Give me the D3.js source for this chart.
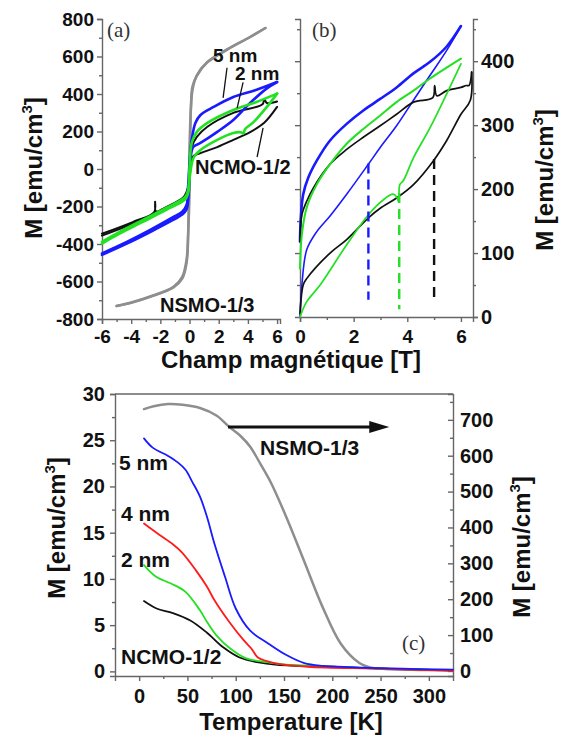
<!DOCTYPE html>
<html>
<head>
<meta charset="utf-8">
<script src="https://cdn.jsdelivr.net/npm/d3@7"></script>
<style>
body { margin: 0; background: #fff; }
text { font-family: "Liberation Sans", Arial, sans-serif; font-weight: bold; fill: #111; }
.axis path, .axis line { stroke: #666; stroke-width: 1.4; }
.panel-tag { font-family: "Liberation Serif", "Times New Roman", serif; font-weight: normal; fill: #333; }
</style>
</head>
<body>
<svg width="563" height="739"></svg>
<script>
// ---- panel (a): hysteresis loops, [H (T), M (emu/cm3)] ----
const aGrayDown = [[5.2,752],[4.15,704],[2.6,640],[1.2,570],[0.5,500],[0.2,420],[0.08,300],[0,120],[-0.04,-100],[-0.1,-350],[-0.2,-480],[-0.5,-575],[-1.1,-628],[-2.7,-680],[-4,-712],[-5,-731]];
const aGrayUp = [[-5,-731],[-4,-714],[-2.7,-682],[-1.1,-632],[-0.5,-585],[-0.2,-500],[-0.08,-320],[0,-130],[0.04,100],[0.1,340],[0.2,440],[0.5,497],[1.2,567],[2.6,637],[4.15,704],[5.2,752]];
const aBlueDown = [[6,464],[4.5,420],[3,384],[1.65,331],[0.75,288],[0.4,245],[0.15,155],[0.03,64],[-0.1,-96],[-0.2,-190],[-0.5,-228],[-1.1,-256],[-2.7,-325],[-4.3,-389],[-6,-450]];
const aBlueUp = [[-6,-458],[-4.3,-398],[-2.7,-336],[-1.1,-270],[-0.5,-243],[-0.2,-215],[-0.05,-120],[0.05,40],[0.25,117],[0.75,139],[1.9,198],[3,261],[4.15,352],[5.3,430],[6,464]];
const aGreenDown = [[6,402],[4.5,355],[3,315],[1.2,245],[0.5,198],[0.15,139],[0,11],[-0.1,-112],[-0.3,-149],[-1.6,-208],[-3.2,-272],[-4.8,-336],[-6,-389]];
const aGreenUp = [[-6,-398],[-4.8,-345],[-3.2,-282],[-1.6,-218],[-0.3,-162],[-0.1,-130],[0.05,-20],[0.3,64],[0.75,101],[1.9,155],[3,192],[3.5,196],[3.7,190],[3.8,212],[4.4,251],[5.3,331],[6,402]];
const aBlackDown = [[6,360],[5.3,352],[5.12,372],[5.0,345],[3,299],[1.2,224],[0.5,171],[0.15,117],[0.03,48],[-0.1,-96],[-0.4,-149],[-1.6,-203],[-2.3,-226],[-2.36,-175],[-2.42,-230],[-3.9,-283],[-6,-345]];
const aBlackUp = [[-6,-355],[-3.9,-292],[-2.3,-237],[-1.6,-214],[-0.4,-162],[-0.1,-120],[0.05,-10],[0.2,64],[0.75,85],[1.9,117],[3,155],[4.15,197],[5.1,245],[6,331]];

// ---- panel (b): zoom on positive field ----
const bBlueDown = [[6,455],[5.47,423],[4.85,399],[4.23,381],[3.6,359],[2.99,341],[2.36,323],[1.74,302],[1.12,276],[0.62,244],[0.31,218],[0.12,192],[0.03,155],[0,118]];
const bBlueUp = [[0,0],[0.08,55],[0.25,105],[0.6,132],[1.12,158],[1.74,192],[2.55,239],[2.99,265],[3.6,299],[4.23,339],[4.85,378],[5.47,417],[6,455]];
const bGreenDown = [[6,404],[4.85,373],[4.23,354],[3.6,336],[2.99,315],[2.36,294],[1.74,271],[1.12,239],[0.62,207],[0.25,171],[0.07,129],[0,76]];
const bGreenUp = [[0,0],[0.25,24],[0.75,50],[1.74,113],[2.55,160],[3.1,183],[3.47,192],[3.6,188],[3.68,180],[3.72,207],[3.85,213],[4.23,249],[4.85,296],[5.47,349],[6,396]];
const bBlackDown = [[6.4,383],[6.3,362],[6.2,362],[6,359],[5.47,354],[5.1,346],[5.02,362],[4.95,343],[4.23,336],[3.6,317],[2.99,299],[2.36,281],[1.74,262],[1.12,239],[0.5,202],[0.25,181],[0.07,160],[0,118]];
const bBlackUp = [[0,5],[0.12,50],[0.25,60],[1.12,100],[1.74,121],[2.55,155],[2.99,170],[3.6,186],[4.23,207],[4.97,244],[5.47,276],[6,317],[6.35,339],[6.4,383]];
const bDashField = [2.55, 3.7, 5.0];
const bDashTop = [240, 194, 247];
const bDashBottom = [27, 12, 28];
const bDashColor = ["#1a1aff", "#22e022", "#111"];

// ---- panel (c): M(T) ----
const tGray = [5,15,30,45,63,80,93,105,115,126,137,153,171,190,209,228,239,260,290,325];
const mGray = [730,738,744,742,733,712,681,655,625,575,522,425,305,178,75,22,10,5,3,2];
const tBlue = [5,14,30,40,48,55,63,70,78,89,100,115,134,152,171,190,220,250,290,325];
const mBlue = [25.2,24.2,23.3,22.6,21.8,20.5,18.9,16.8,13.8,10.2,6.8,4.4,3.0,1.8,0.9,0.6,0.45,0.35,0.25,0.2];
const tRed = [5,18,33,44,59,70,78,93,108,116,118,123,140,175,250,325];
const mRed = [16.0,15.0,13.9,12.9,10.9,9.2,7.7,5.4,3.4,2.5,2.2,1.5,0.9,0.5,0.3,0.05];
const tGreen = [5,18,33,48,63,70,80,94,111,132,150,200,250,325];
const mGreen = [11.5,10.2,9.5,8.6,6.6,5.4,3.9,2.5,1.4,1.0,0.75,0.5,0.3,0.1];
const tBlack = [5,18,35,53,70,87,104,122,143,200,250,325];
const mBlack = [7.6,6.8,6.3,5.5,4.2,2.6,1.5,1.0,0.7,0.5,0.3,0.1];

const svg = d3.select("svg");
svg.append("rect").attr("width", 563).attr("height", 739).attr("fill", "#fff");

// scales
const xA = d3.scaleLinear().domain([-6, 6.2]).range([102, 280]);
const yA = d3.scaleLinear().domain([-800, 800]).range([319, 19]);
const xB = d3.scaleLinear().domain([0, 6.45]).range([300, 473]);
const yB = d3.scaleLinear().domain([0, 466]).range([317, 19]);
const xC = d3.scaleLinear().domain([-25, 325]).range([115, 453]);
const yC = d3.scaleLinear().domain([-0.5, 30]).range([676, 394]);
const yCR = d3.scaleLinear().domain([-14, 772]).range([676, 394]);

function addAxis(axisFn, scale, transform, majors, minors, o) {
  const major = axisFn(scale).tickValues(majors).tickSizeOuter(0)
    .tickSize(o.size).tickPadding(o.pad)
    .tickFormat(o.noLabels ? "" : d => String(d));
  const g = svg.append("g").attr("class", "axis").attr("transform", transform).call(major);
  g.selectAll("text").style("font-size", o.font + "px");
  const m = svg.append("g").attr("class", "axis").attr("transform", transform)
    .call(axisFn(scale).tickValues(minors).tickSize(o.minor).tickFormat(""));
  m.select(".domain").remove();
  return g;
}

// panel (a) axes
addAxis(d3.axisLeft, yA, "translate(102,0)", d3.range(-800, 801, 200), d3.range(-700, 701, 200), {size: 5, pad: 3, font: 19, minor: 3});
addAxis(d3.axisBottom, xA, "translate(0,319)", d3.range(-6, 7, 2), [-5,-3,-1,1,3,5], {size: 5, pad: 6, font: 19, minor: 3});
// panel (b) axes
addAxis(d3.axisLeft, yB, "translate(300,0)", [100,200,300,400], [50,150,250,350,450], {size: 5, pad: 3, font: 19, minor: 3, noLabels: true});
addAxis(d3.axisRight, yB, "translate(473,0)", [0,100,200,300,400], [50,150,250,350,450], {size: 5, pad: 3, font: 20, minor: 3});
addAxis(d3.axisBottom, xB, "translate(0,317)", [0,2,4,6], [1,3,5], {size: 5, pad: 8, font: 19, minor: 3});
// panel (c) axes
addAxis(d3.axisLeft, yC, "translate(115,0)", d3.range(0, 31, 5), d3.range(2.5, 30, 5), {size: 5, pad: 5, font: 20, minor: 3});
addAxis(d3.axisRight, yCR, "translate(453,0)", d3.range(0, 701, 100), d3.range(50, 751, 100), {size: -5, pad: 7, font: 20, minor: -3});
addAxis(d3.axisBottom, xC, "translate(0,676)", d3.range(0, 301, 50), d3.range(25, 300, 50), {size: 5, pad: 8, font: 20, minor: 3});
svg.append("line").attr("class", "axis")
  .attr("x1", xC.range()[0]).attr("x2", xC.range()[1])
  .attr("y1", yC.range()[1]).attr("y2", yC.range()[1])
  .attr("stroke", "#666").attr("stroke-width", 1.4);

// curves
function curve(data, x, y, color, w) {
  const line = d3.line().x(d => x(d[0])).y(d => y(d[1])).curve(d3.curveCatmullRom.alpha(0.5));
  svg.append("path").datum(data).attr("d", line)
    .attr("fill", "none").attr("stroke", color).attr("stroke-width", w)
    .attr("stroke-linejoin", "round").attr("stroke-linecap", "round");
}

const gray = "#8e8e8e", blue = "#1a1aff", green = "#22e022", red = "#ff1a1a", black = "#111";

curve(aGrayDown, xA, yA, gray, 2.5);
curve(aGrayUp, xA, yA, gray, 2.5);
curve(aBlackDown, xA, yA, black, 2);
curve(aBlackUp, xA, yA, black, 2);
curve(aBlueDown, xA, yA, blue, 2.6);
curve(aBlueUp, xA, yA, blue, 2.6);
curve(aGreenDown, xA, yA, green, 2.6);
curve(aGreenUp, xA, yA, green, 2.6);

curve(bBlueDown, xB, yB, blue, 2.6);
curve(bBlueUp, xB, yB, blue, 1.6);
curve(bBlackDown, xB, yB, black, 1.7);
curve(bBlackUp, xB, yB, black, 1.7);
curve(bGreenDown, xB, yB, green, 2);
curve(bGreenUp, xB, yB, green, 1.7);

svg.selectAll(".dash").data(bDashField).enter().append("line")
  .attr("x1", d => xB(d)).attr("x2", d => xB(d))
  .attr("y1", (d, i) => yB(bDashTop[i])).attr("y2", (d, i) => yB(bDashBottom[i]))
  .attr("stroke", (d, i) => bDashColor[i]).attr("stroke-width", 2.4)
  .attr("stroke-dasharray", "10,6");

curve(d3.zip(tGray, mGray), xC, yCR, gray, 2.5);
curve(d3.zip(tBlack, mBlack), xC, yC, black, 1.8);
curve(d3.zip(tGreen, mGreen), xC, yC, green, 1.8);
curve(d3.zip(tRed, mRed), xC, yC, red, 1.8);
curve(d3.zip(tBlue, mBlue), xC, yC, blue, 1.8);

// annotations
function label(txt, x, y, size, cls) {
  const t = svg.append("text").attr("x", x).attr("y", y).style("font-size", size + "px").text(txt);
  if (cls) t.attr("class", cls);
  return t;
}
label("(a)", 107, 37, 21, "panel-tag");
label("(b)", 312, 37, 21, "panel-tag");
label("(c)", 402, 650, 21, "panel-tag");

label("5 nm", 213, 62, 19);
label("2 nm", 235, 80, 19);
label("NCMO-1/2", 195, 174, 20);
label("NSMO-1/3", 160, 312, 20);

const leaders = [[[2.57,540],[2.3,379]], [[3.67,462],[3.26,325]], [[4.63,64],[5.04,219]]];
leaders.forEach(p => {
  svg.append("line").attr("x1", xA(p[0][0])).attr("y1", yA(p[0][1]))
    .attr("x2", xA(p[1][0])).attr("y2", yA(p[1][1]))
    .attr("stroke", black).attr("stroke-width", 1.3);
});

label("5 nm", 119, 470, 21);
label("4 nm", 121, 521, 21);
label("2 nm", 121, 567, 21);
label("NCMO-1/2", 121, 664, 21);
label("NSMO-1/3", 260, 455, 21);

const arrowFrom = [92, 680], arrowTo = [259, 680];
svg.append("line").attr("x1", xC(arrowFrom[0])).attr("y1", yCR(arrowFrom[1]))
  .attr("x2", xC(arrowTo[0]) - 16).attr("y2", yCR(arrowTo[1]))
  .attr("stroke", black).attr("stroke-width", 3);
{
  const ax = xC(arrowTo[0]), ay = yCR(arrowTo[1]);
  svg.append("path").attr("d", `M${ax},${ay}L${ax - 20},${ay - 6}L${ax - 20},${ay + 6}Z`).attr("fill", black);
}

// axis titles
function yTitle(x, y) {
  const t = svg.append("text").attr("transform", `translate(${x},${y}) rotate(-90)`)
    .attr("text-anchor", "middle").style("font-size", "24px");
  t.append("tspan").text("M [emu/cm");
  t.append("tspan").attr("dy", -10).style("font-size", "15px").text("3");
  t.append("tspan").attr("dy", 10).text("]");
}
yTitle(42, 168);
yTitle(553, 180);
yTitle(65, 528);
yTitle(530, 547);

svg.append("text").attr("x", 291).attr("y", 368).attr("text-anchor", "middle")
  .style("font-size", "24px").text("Champ magnétique [T]");
svg.append("text").attr("x", 291).attr("y", 730).attr("text-anchor", "middle")
  .style("font-size", "24px").text("Temperature [K]");
</script>
</body>
</html>
